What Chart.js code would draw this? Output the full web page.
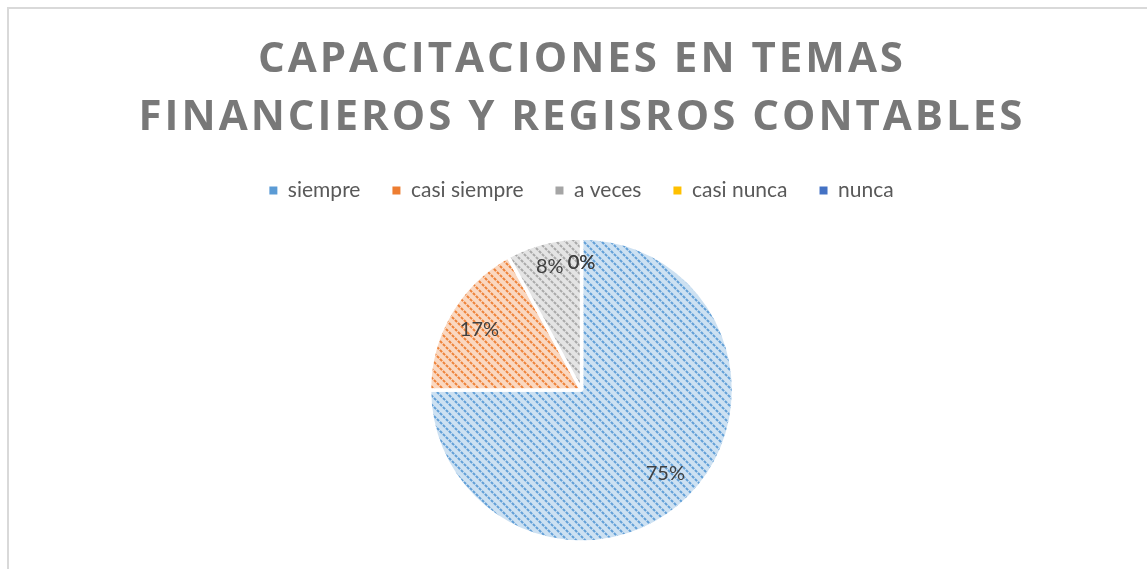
<!DOCTYPE html>
<html>
<head>
<meta charset="utf-8">
<script src="https://cdn.jsdelivr.net/npm/chart.js@4.4.1/dist/chart.umd.min.js"></script>
<style>
  html, body { margin: 0; padding: 0; background: #fff; }
  #wrap { width: 1147px; height: 569px; position: relative; }
</style>
</head>
<body>
<div id="wrap"><canvas id="pieChart" width="1147" height="569"></canvas></div>
<script>
// Datos
const categorias = ['siempre', 'casi siempre', 'a veces', 'casi nunca', 'nunca'];
const porcentajes = [75, 17, 8, 0, 0];
const colores = ['#5B9BD5', '#ED7D31', '#A5A5A5', '#FFC000', '#4472C4'];
const titulo = ['CAPACITACIONES EN TEMAS', 'FINANCIEROS Y REGISROS CONTABLES'];

// relleno rayado tipo Excel
function rayado(color) {
  const n = 9;
  const t = document.createElement('canvas');
  t.width = n; t.height = n;
  const c = t.getContext('2d');
  c.fillStyle = '#fff';
  c.fillRect(0, 0, n, n);
  c.globalAlpha = 0.3;
  c.fillStyle = color;
  c.fillRect(0, 0, n, n);
  c.globalAlpha = 0.95;
  c.strokeStyle = color;
  c.lineWidth = 2;
  c.setLineDash([3, 1.2]);
  c.beginPath();
  c.moveTo(-1, -1); c.lineTo(n + 1, n + 1);
  c.moveTo(n - 1, -1); c.lineTo(n + 1, 1);
  c.moveTo(-1, n - 1); c.lineTo(1, n + 1);
  c.stroke();
  return c.createPattern(t, 'repeat');
}

const canvas = document.getElementById('pieChart');
const ctx = canvas.getContext('2d');
const rellenos = colores.map(rayado);

// marco + título
const marcoTitulo = {
  id: 'marcoTitulo',
  beforeDraw(chart) {
    const c = chart.ctx;
    c.save();
    c.strokeStyle = '#d9d9d9';
    c.lineWidth = 2;
    c.beginPath();
    c.moveTo(8, 600); c.lineTo(8, 8); c.lineTo(1147, 8);
    c.stroke();
    c.restore();
  },
  afterDraw(chart) {
    const c = chart.ctx;
    c.save();
    c.fillStyle = '#787878';
    c.font = 'bold 42px "Open Sans"';
    c.letterSpacing = '3px';
    c.textAlign = 'center';
    c.textBaseline = 'middle';
    c.fillText(titulo[0], 582, 60);
    c.fillText(titulo[1], 582, 118);
    c.restore();
  }
};

// etiquetas de porcentaje
const etiquetas = {
  id: 'etiquetas',
  afterDatasetsDraw(chart) {
    const c = chart.ctx;
    const meta = chart.getDatasetMeta(0);
    c.save();
    c.fillStyle = '#404040';
    c.font = '20px Lato';
    c.textAlign = 'center';
    c.textBaseline = 'middle';
    meta.data.forEach((arc, i) => {
      const p = arc.getProps(['startAngle', 'endAngle', 'outerRadius', 'x', 'y'], true);
      const mid = (p.startAngle + p.endAngle) / 2;
      const f = porcentajes[i] < 10 ? 0.84 : 0.78;
      const r = p.outerRadius * f;
      c.fillText(porcentajes[i] + '%', p.x + Math.cos(mid) * r, p.y + Math.sin(mid) * r);
    });
    c.restore();
  }
};

new Chart(ctx, {
  type: 'pie',
  data: {
    labels: categorias,
    datasets: [{
      data: porcentajes,
      backgroundColor: rellenos,
      borderColor: '#fff',
      borderWidth: 3.5,
      radius: 152
    }]
  },
  options: {
    responsive: false,
    animation: false,
    layout: { padding: { top: 148, bottom: -9, left: 16, right: 0 } },
    plugins: {
      title: { display: false },
      tooltip: { enabled: false },
      legend: {
        position: 'top',
        labels: {
          color: '#595959',
          font: { family: 'Lato', size: 21 },
          boxWidth: 8,
          boxHeight: 8,
          padding: 32,
          generateLabels(chart) {
            const base = Chart.overrides.pie.plugins.legend.labels.generateLabels(chart);
            return base.map((l, i) => Object.assign(l, {
              fillStyle: colores[i], lineWidth: 0, strokeStyle: 'transparent'
            }));
          }
        }
      }
    }
  },
  plugins: [marcoTitulo, etiquetas]
});
</script>
</body>
</html>
